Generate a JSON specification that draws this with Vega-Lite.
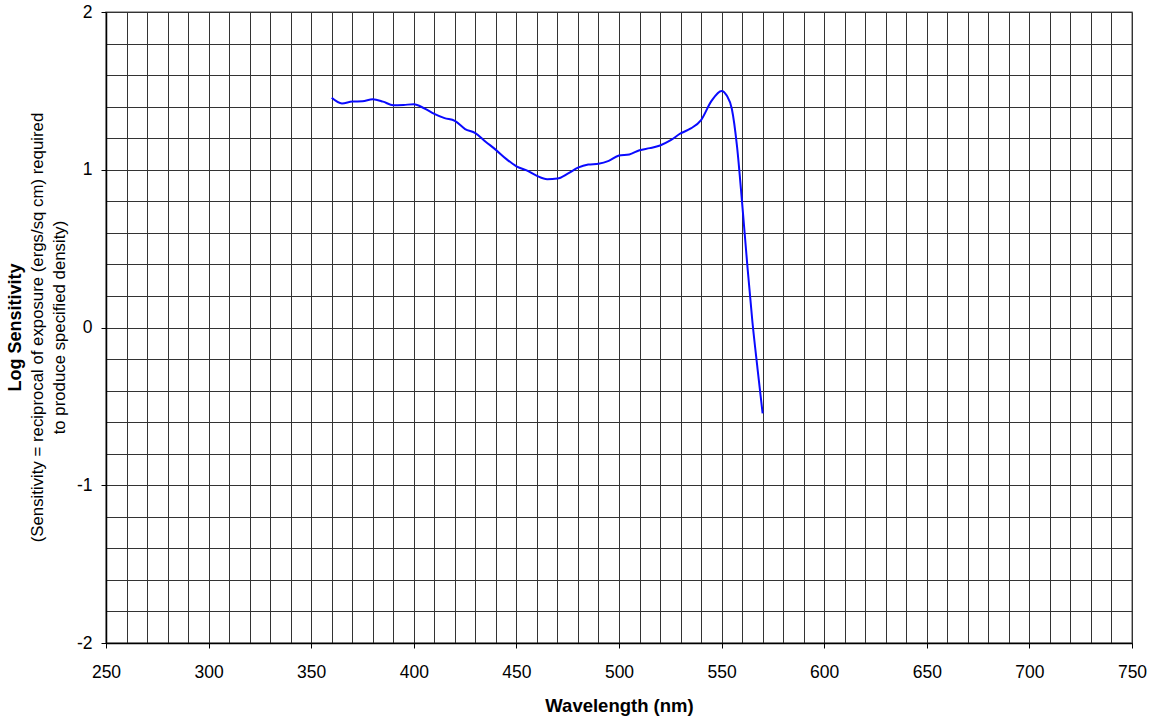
{
  "$schema": "https://vega.github.io/schema/vega-lite/v6.json",
  "width": 1026,
  "height": 631,
  "autosize": {"type": "none"},
  "padding": {"left": 106, "top": 12, "right": 26, "bottom": 76},
  "background": "white",
  "config": {
    "font": "Liberation Sans",
    "view": {"stroke": "#8a8a8a", "strokeWidth": 1.5}
  },
  "title": {
    "text": "Log Sensitivity",
    "subtitle": [
      "(Sensitivity = reciprocal of exposure (ergs/sq cm) required",
      "to produce specified density)"
    ],
    "orient": "left",
    "anchor": "middle",
    "font": "Liberation Sans",
    "fontSize": 18,
    "fontWeight": "bold",
    "color": "black",
    "subtitleFont": "Liberation Sans",
    "subtitleFontSize": 16.8,
    "subtitleFontWeight": "normal",
    "subtitleColor": "black",
    "subtitleLineHeight": 22,
    "subtitlePadding": 5,
    "offset": 8
  },
  "data": {
    "values": [
      {"wavelength": 360, "log_sensitivity": 1.456},
      {"wavelength": 365, "log_sensitivity": 1.420},
      {"wavelength": 370, "log_sensitivity": 1.432},
      {"wavelength": 375, "log_sensitivity": 1.434},
      {"wavelength": 380, "log_sensitivity": 1.447},
      {"wavelength": 385, "log_sensitivity": 1.432},
      {"wavelength": 390, "log_sensitivity": 1.409},
      {"wavelength": 395, "log_sensitivity": 1.411},
      {"wavelength": 400, "log_sensitivity": 1.415},
      {"wavelength": 405, "log_sensitivity": 1.390},
      {"wavelength": 410, "log_sensitivity": 1.354},
      {"wavelength": 415, "log_sensitivity": 1.327},
      {"wavelength": 420, "log_sensitivity": 1.310},
      {"wavelength": 425, "log_sensitivity": 1.258},
      {"wavelength": 430, "log_sensitivity": 1.232},
      {"wavelength": 435, "log_sensitivity": 1.178},
      {"wavelength": 440, "log_sensitivity": 1.126},
      {"wavelength": 445, "log_sensitivity": 1.069},
      {"wavelength": 450, "log_sensitivity": 1.022},
      {"wavelength": 455, "log_sensitivity": 0.996},
      {"wavelength": 460, "log_sensitivity": 0.961},
      {"wavelength": 465, "log_sensitivity": 0.940},
      {"wavelength": 470, "log_sensitivity": 0.944},
      {"wavelength": 475, "log_sensitivity": 0.975},
      {"wavelength": 480, "log_sensitivity": 1.013},
      {"wavelength": 485, "log_sensitivity": 1.033},
      {"wavelength": 490, "log_sensitivity": 1.038},
      {"wavelength": 495, "log_sensitivity": 1.056},
      {"wavelength": 500, "log_sensitivity": 1.090},
      {"wavelength": 505, "log_sensitivity": 1.097},
      {"wavelength": 510, "log_sensitivity": 1.124},
      {"wavelength": 515, "log_sensitivity": 1.137},
      {"wavelength": 520, "log_sensitivity": 1.154},
      {"wavelength": 525, "log_sensitivity": 1.186},
      {"wavelength": 530, "log_sensitivity": 1.230},
      {"wavelength": 535, "log_sensitivity": 1.262},
      {"wavelength": 540, "log_sensitivity": 1.315},
      {"wavelength": 545, "log_sensitivity": 1.435},
      {"wavelength": 550, "log_sensitivity": 1.500},
      {"wavelength": 552.5, "log_sensitivity": 1.470},
      {"wavelength": 555, "log_sensitivity": 1.385},
      {"wavelength": 557.5, "log_sensitivity": 1.150},
      {"wavelength": 560, "log_sensitivity": 0.790},
      {"wavelength": 562.5, "log_sensitivity": 0.400},
      {"wavelength": 565, "log_sensitivity": 0.038},
      {"wavelength": 567.5, "log_sensitivity": -0.260},
      {"wavelength": 570, "log_sensitivity": -0.545}
    ]
  },
  "mark": {
    "type": "line",
    "color": "#0a0aff",
    "strokeWidth": 2,
    "interpolate": "monotone"
  },
  "encoding": {
    "x": {
      "field": "wavelength",
      "type": "quantitative",
      "scale": {"domain": [250, 750], "nice": false, "zero": false},
      "axis": {
        "values": [250, 260, 270, 280, 290, 300, 310, 320, 330, 340, 350, 360, 370, 380, 390, 400, 410, 420, 430, 440, 450, 460, 470, 480, 490, 500, 510, 520, 530, 540, 550, 560, 570, 580, 590, 600, 610, 620, 630, 640, 650, 660, 670, 680, 690, 700, 710, 720, 730, 740, 750],
        "labelExpr": "datum.value % 50 === 0 ? toString(datum.value) : ''",
        "labelOverlap": false,
        "labelFlush": false,
        "labelFontSize": 17.5,
        "labelColor": "black",
        "labelPadding": 15,
        "tickColor": "black",
        "tickSize": 5,
        "tickOpacity": {"condition": {"test": "datum.value % 50 === 0", "value": 1}, "value": 0},
        "domainColor": "black",
        "domainWidth": 1.5,
        "grid": true,
        "gridColor": "#333333",
        "gridWidth": 1,
        "title": "Wavelength (nm)",
        "titleFontSize": 18.5,
        "titleFontWeight": "bold",
        "titleColor": "black",
        "titlePadding": 16
      }
    },
    "y": {
      "field": "log_sensitivity",
      "type": "quantitative",
      "scale": {"domain": [-2, 2], "nice": false, "zero": false},
      "axis": {
        "values": [-2, -1.8, -1.6, -1.4, -1.2, -1, -0.8, -0.6, -0.4, -0.2, 0, 0.2, 0.4, 0.6, 0.8, 1, 1.2, 1.4, 1.6, 1.8, 2],
        "labelExpr": "abs(datum.value - round(datum.value)) < 1e-6 ? toString(round(datum.value)) : ''",
        "labelOverlap": false,
        "labelFlush": false,
        "labelFontSize": 17.5,
        "labelColor": "black",
        "labelPadding": 9,
        "tickColor": "black",
        "tickSize": 5,
        "tickOpacity": {"condition": {"test": "abs(datum.value - round(datum.value)) < 1e-6", "value": 1}, "value": 0},
        "domainColor": "black",
        "domainWidth": 1.5,
        "grid": true,
        "gridColor": "#333333",
        "gridWidth": 1,
        "title": null
      }
    }
  }
}
